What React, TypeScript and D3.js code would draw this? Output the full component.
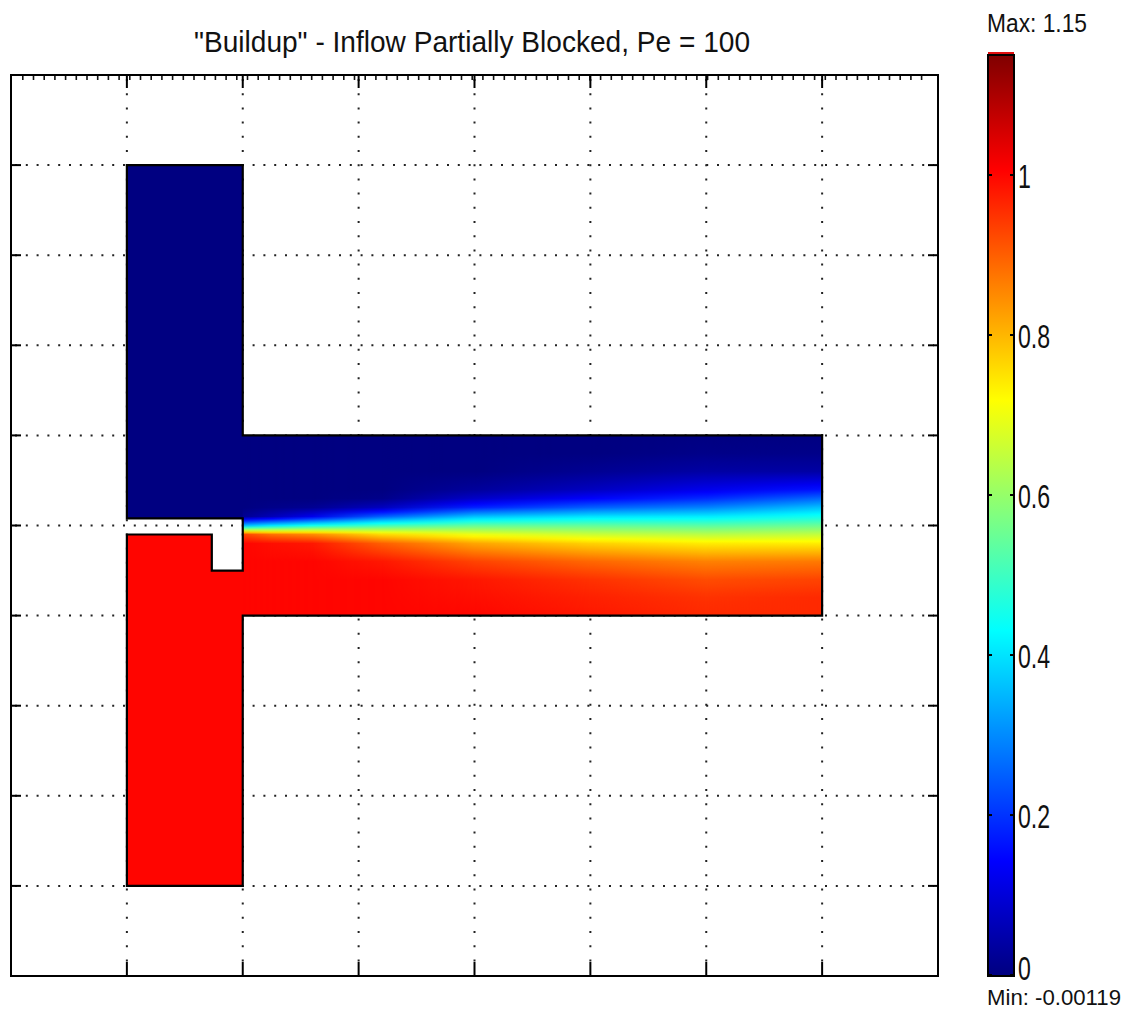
import React from "react";
import * as d3 from "d3";

const W = 1126;
const H = 1010;

const title = '"Buildup" - Inflow Partially Blocked, Pe = 100';
const xGrid = [0, 1, 2, 3, 4, 5, 6];
const yGrid = [1, 2, 3, 4, 5, 6, 7, 8, 9];
const colorTicks = [0, 0.2, 0.4, 0.6, 0.8, 1];
const colorTickLabels = ["0", "0.2", "0.4", "0.6", "0.8", "1"];
const cMin = -0.00119;
const cMax = 1.15;
const maxLabel = "Max: 1.15";
const minLabel = "Min: -0.00119";

// inlet concentrations
const upperInletValue = 0;
const lowerInletValue = 1;

// geometry (plot units); fills reach a hair into the channel to hide seams
const upperInlet = [[0, 9], [1, 9], [1, 6], [1.006, 6], [1.006, 5.08], [0, 5.08]];
const lowerInlet = [[0, 1], [1, 1], [1, 4], [1.006, 4], [1.006, 4.5], [0.733, 4.5], [0.733, 4.9], [0, 4.9]];
const outline = [
  [0, 9], [1, 9], [1, 6], [6, 6], [6, 4], [1, 4], [1, 1], [0, 1],
  [0, 4.9], [0.733, 4.9], [0.733, 4.5], [1, 4.5], [1, 5.08], [0, 5.08],
];
const channelTop = 6;
const channelBottom = 4;
const channelLeft = 1;
const channelRight = 6;

// concentration profiles across the channel, read at a few stations
const stationX = [1, 1.25, 1.6, 2.2, 3, 4, 5, 6];
const profileY = [6, 5.8, 5.6, 5.4, 5.3, 5.2, 5.1, 5, 4.9, 4.8, 4.6, 4.4, 4.2, 4];
const profiles = [
  [0, 0, 0, 0, 0, 0, 0.02, 0.35, 0.93, 1, 1, 1, 1, 1],
  [0, 0, 0, 0, 0, 0.01, 0.06, 0.4, 0.88, 0.99, 1, 1, 1, 1],
  [0, 0, 0, 0, 0, 0.02, 0.12, 0.45, 0.85, 0.98, 1, 1, 1, 1],
  [0, 0, 0, 0, 0.01, 0.07, 0.25, 0.5, 0.76, 0.9, 0.98, 1, 1, 1],
  [0, 0, 0, 0.03, 0.08, 0.18, 0.36, 0.54, 0.7, 0.82, 0.93, 0.98, 0.99, 1],
  [0, 0, 0.02, 0.07, 0.14, 0.25, 0.4, 0.54, 0.66, 0.77, 0.89, 0.95, 0.97, 0.98],
  [0, 0.01, 0.04, 0.12, 0.19, 0.29, 0.41, 0.53, 0.64, 0.74, 0.86, 0.92, 0.95, 0.96],
  [0, 0.01, 0.04, 0.16, 0.26, 0.36, 0.45, 0.55, 0.65, 0.74, 0.87, 0.93, 0.96, 0.96],
];

// matlab "jet"
const jet = (t: number) => {
  const f = (k: number) => Math.max(0, Math.min(1, 1.5 - Math.abs(4 * t - k)));
  return d3.rgb(255 * f(3), 255 * f(2), 255 * f(1)).formatHex();
};

const font = "'Liberation Sans', Arial, sans-serif";

export default function App() {
  const x = d3.scaleLinear().domain([-1, 7]).range([11, 938]);
  const y = d3.scaleLinear().domain([0, 10]).range([976, 75]);
  const cy = d3.scaleLinear().domain([cMin, cMax]).range([976, 55]);
  const color = d3.scaleSequential(jet).domain([cMin, cMax]);
  const line = d3.line<number[]>().x((d) => x(d[0])).y((d) => y(d[1]));

  const chTop = y(channelTop);
  const chBot = y(channelBottom);
  const chRight = x(channelRight);

  // gradient stops for each profile (sub-stops so colors follow the colormap)
  const profileStops = profiles.map((vals) => {
    const stops: { off: number; col: string }[] = [];
    for (let j = 0; j < vals.length - 1; j++) {
      for (let k = 0; k < 4; k++) {
        const f = k / 4;
        const lv = profileY[j] + (profileY[j + 1] - profileY[j]) * f;
        const v = vals[j] + (vals[j + 1] - vals[j]) * f;
        stops.push({ off: (y(lv) - chTop) / (chBot - chTop), col: color(v) });
      }
    }
    stops.push({ off: 1, col: color(vals[vals.length - 1]) });
    return stops;
  });

  const cbStops = d3.range(0, 1.0001, 1 / 64);
  const cbX0 = 988;
  const cbX1 = 1014;

  return (
    <svg width={W} height={H} style={{ position: "absolute", left: 0, top: 0, background: "#fff" }}>
      <defs>
        {profileStops.map((stops, i) => (
          <linearGradient key={i} id={`prof-${i}`} x1="0" y1="0" x2="0" y2="1">
            {stops.map((s, k) => (
              <stop key={k} offset={s.off} stopColor={s.col} />
            ))}
          </linearGradient>
        ))}
        {stationX.slice(1).map((sx, i) => (
          <linearGradient
            key={i}
            id={`ramp-${i + 1}`}
            gradientUnits="userSpaceOnUse"
            x1={x(stationX[i])}
            x2={x(sx)}
            y1={0}
            y2={0}
          >
            <stop offset="0" stopColor="#000" />
            <stop offset="1" stopColor="#fff" />
          </linearGradient>
        ))}
        {stationX.slice(1).map((sx, i) => (
          <mask key={i} id={`fade-${i + 1}`} maskUnits="userSpaceOnUse" x={0} y={0} width={W} height={H}>
            <rect
              x={x(stationX[i])}
              y={chTop - 2}
              width={chRight - x(stationX[i]) + 2}
              height={chBot - chTop + 4}
              fill={`url(#ramp-${i + 1})`}
            />
          </mask>
        ))}
        <linearGradient id="cbar" x1="0" y1="1" x2="0" y2="0">
          {cbStops.map((t, k) => (
            <stop key={k} offset={t} stopColor={jet(t)} />
          ))}
        </linearGradient>
      </defs>

      {/* title */}
      <text
        x={472}
        y={52}
        textAnchor="middle"
        fontFamily={font}
        fontSize={29}
        textLength={556}
        lengthAdjust="spacingAndGlyphs"
        fill="#111"
      >
        {title}
      </text>

      {/* grid */}
      <g stroke="#222" strokeWidth={2}>
        {xGrid.map((g) => (
          <line key={g} x1={x(g)} x2={x(g)} y1={79} y2={972} strokeDasharray="2 12.2" />
        ))}
        {yGrid.map((g) => (
          <line key={g} x1={15} x2={934} y1={y(g)} y2={y(g)} strokeDasharray="2 8.8" />
        ))}
      </g>

      {/* inlets */}
      <path d={line(upperInlet as number[][]) + "Z"} fill={color(upperInletValue)} />
      <path d={line(lowerInlet as number[][]) + "Z"} fill={color(lowerInletValue)} />

      {/* channel field: each station profile laid over the previous with a ramp */}
      <rect
        x={x(channelLeft)}
        y={chTop}
        width={chRight - x(channelLeft)}
        height={chBot - chTop}
        fill="url(#prof-0)"
      />
      {stationX.slice(1).map((sx, i) => (
        <rect
          key={i}
          x={x(stationX[i])}
          y={chTop}
          width={chRight - x(stationX[i])}
          height={chBot - chTop}
          fill={`url(#prof-${i + 1})`}
          mask={`url(#fade-${i + 1})`}
        />
      ))}

      {/* domain outline */}
      <path d={line(outline as number[][]) + "Z"} fill="none" stroke="#000" strokeWidth={2.2} strokeLinejoin="miter" />

      {/* axes frame and ticks */}
      <line x1={22} x2={930} y1={77.5} y2={77.5} stroke="#111" strokeWidth={5} strokeDasharray="1.6 9.1" />
      <rect x={11} y={75} width={927} height={901} fill="none" stroke="#000" strokeWidth={2} />
      <g stroke="#000" strokeWidth={2}>
        {xGrid.map((g) => (
          <g key={g}>
            <line x1={x(g)} x2={x(g)} y1={75} y2={88} />
            <line x1={x(g)} x2={x(g)} y1={976} y2={962} />
          </g>
        ))}
        {yGrid.map((g) => (
          <g key={g}>
            <line x1={11} x2={21} y1={y(g)} y2={y(g)} />
            <line x1={938} x2={928} y1={y(g)} y2={y(g)} />
          </g>
        ))}
      </g>

      {/* colorbar */}
      <line x1={cbX0} x2={cbX1} y1={53} y2={53} stroke="#e01010" strokeWidth={2} />
      <rect x={cbX0} y={cy(cMax)} width={cbX1 - cbX0} height={cy(cMin) - cy(cMax)} fill="url(#cbar)" stroke="#000" strokeWidth={2} />
      <g stroke="#000" strokeWidth={2}>
        {colorTicks.map((t) => (
          <g key={t}>
            <line x1={cbX0} x2={cbX0 + 4} y1={cy(t)} y2={cy(t)} />
            <line x1={cbX1} x2={cbX1 - 4} y1={cy(t)} y2={cy(t)} />
          </g>
        ))}
      </g>
      {colorTicks.map((t, i) => (
        <text
          key={t}
          transform={`translate(1018,${Math.min(cy(t) + 13, 980)}) scale(0.68,1)`}
          fontFamily={font}
          fontSize={34}
          fill="#111"
        >
          {colorTickLabels[i]}
        </text>
      ))}
      <text
        x={987}
        y={32}
        fontFamily={font}
        fontSize={25}
        textLength={100}
        lengthAdjust="spacingAndGlyphs"
        fill="#111"
      >
        {maxLabel}
      </text>
      <text
        x={987}
        y={1005}
        fontFamily={font}
        fontSize={22}
        textLength={134}
        lengthAdjust="spacingAndGlyphs"
        fill="#111"
      >
        {minLabel}
      </text>
    </svg>
  );
}
